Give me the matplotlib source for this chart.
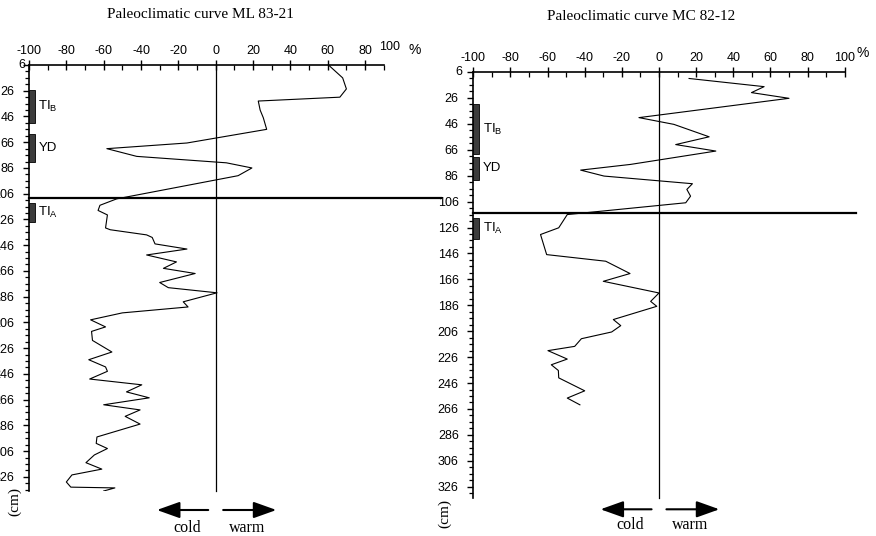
import matplotlib
matplotlib.use("Agg")
import matplotlib.pyplot as plt
import numpy as np

# ---------------- data ----------------
title_ml = "Paleoclimatic curve ML 83-21"
title_mc = "Paleoclimatic curve MC 82-12"

depth_ml = [6, 16, 24.6, 31, 34, 41, 47, 56, 66.6, 71, 77, 82, 86, 92, 110, 115, 119, 122.5,
            132.6, 134, 138, 140, 145, 149, 153.6, 159, 164, 168, 175, 179, 183, 190, 194,
            198.6, 204, 209.5, 213, 220, 229, 235, 240.6, 244, 250, 254.5, 260, 264.6, 270,
            274, 279, 285, 295, 300, 304, 309, 315, 320, 324.5, 330, 334, 334.6, 337]
value_ml = [60.4, 68, 70, 66.5, 22.8, 23.8, 25.5, 27.3, -15.4, -58.3, -42.3, 5.7, 19.4, 12, -53,
            -62, -63, -58, -59, -56.5, -37, -34, -32.5, -15.4, -37, -21, -28, -11, -30, -25.4,
            0.7, -17.4, -14.8, -50, -67, -59, -66.5, -66, -55.6, -68, -59, -58, -67.5, -39.6,
            -47.8, -35.6, -60, -40.5, -48.5, -40.5, -63.6, -64, -58, -65, -69.5, -61, -77, -80,
            -77.6, -54, -60]

depth_mc = [11, 17.3, 21.9, 26.3, 41.2, 46.4, 56, 62, 67, 77.3, 81.7, 86.3, 92.2, 96.6, 101.8,
            106.9, 116, 126.2, 131.4, 146.9, 152, 161.5, 167.5, 176.5, 183, 186.8, 197, 201.7,
            206.6, 211.8, 217.7, 221, 227.5, 231.9, 236.3, 242, 252, 257.6, 262.8]
value_mc = [16.2, 56.6, 49.8, 70, -10.8, 8, 27, 9, 30.6, -15.3, -42.2, -29.6, 18, 15, 17, 14.4,
            -49.4, -54, -63.8, -60.5, -28.7, -15.6, -30, 0, -4.5, -1.2, -24.6, -20.6, -25.5,
            -41.8, -45.4, -59.8, -49.4, -58, -54.2, -54, -40, -49.4, -42.6]

boundary_ml = 109
boundary_mc = 114.5

# climatic zones: (label, top depth, bottom depth)
zones_ml = [(r"TI$_\mathregular{B}$", 25.4, 51), ("YD", 60, 81), (r"TI$_\mathregular{A}$", 113, 128)]
zones_mc = [(r"TI$_\mathregular{B}$", 31, 69.6), ("YD", 71.3, 89.4), (r"TI$_\mathregular{A}$", 119, 134.5)]

depth_ticks = list(range(6, 327, 20))
pct_ticks_ml = list(range(-100, 81, 20))
pct_ticks_mc = list(range(-100, 101, 20))

# ---------------- drawing ----------------
W, H = 876, 536
fig = plt.figure(figsize=(W / 100, H / 100), dpi=100)

SANS = ['Liberation Sans', 'DejaVu Sans']
SERIF = ['Liberation Serif', 'DejaVu Serif']
TS = 9
plt.rcParams['mathtext.fontset'] = 'custom'


def fx(x):
    return x / W


def fy(y):
    return 1 - y / H


def setup(ax, xmax_axis, pct_ticks, ylim):
    ax.set_xlim(-100, 100)
    ax.set_ylim(*ylim)
    for s in ['right', 'bottom']:
        ax.spines[s].set_visible(False)
    ax.spines['top'].set_bounds(-100, xmax_axis)
    ax.spines['top'].set_linewidth(1.2)
    ax.spines['left'].set_linewidth(1.2)
    ax.xaxis.tick_top()
    ax.set_xticks(pct_ticks)
    ax.set_xticklabels([str(t) for t in pct_ticks], family=SANS, fontsize=TS)
    ax.set_xticks([t for t in range(-90, 91, 20)], minor=True)
    ax.tick_params(axis='x', which='major', direction='inout', length=7, width=1, pad=2)
    ax.tick_params(axis='x', which='minor', direction='in', length=3.5, width=0.9)
    ax.set_yticks(depth_ticks)
    ax.set_yticklabels([''] + [str(t) for t in depth_ticks[1:]], family=SANS, fontsize=TS)
    ax.set_yticks([d for d in range(6, int(ylim[0]) + 1, 5) if (d - 6) % 20 != 0], minor=True)
    ax.tick_params(axis='y', which='major', direction='out', length=4, width=1, pad=6.5)
    ax.tick_params(axis='y', which='minor', direction='out', length=3, width=0.9)
    ax.patch.set_alpha(0)


def panel(ax, depth, value, boundary, zones, ymax, bline_x, arrow_y, text_y):
    ax.plot(value, depth, color='black', lw=0.8, zorder=3)
    ax.plot([0, 0], [6, ymax], color='black', lw=0.9, zorder=2, clip_on=False)
    ax.plot([-100, bline_x], [boundary, boundary], color='black', lw=1.6, zorder=4, clip_on=False)
    for lab, d0, d1 in zones:
        ax.bar(-100, d1 - d0, bottom=d0, width=3.2, align='edge', color='#3c3c3c',
               edgecolor='black', lw=0.6, zorder=3, clip_on=False)
        ax.text(-95, (d0 + d1) / 2, lab, family=SANS, fontsize=9.5, va='center', ha='left')
    tr = ax.get_xaxis_transform()
    ap = dict(arrowstyle='-|>,head_length=1.4,head_width=0.5', color='black', lw=1.5,
              shrinkA=0, shrinkB=0, mutation_scale=10)
    ax.annotate('', xy=(-31.5, arrow_y), xytext=(-4, arrow_y), xycoords=tr, textcoords=tr,
                arrowprops=ap, annotation_clip=False)
    ax.annotate('', xy=(32.5, arrow_y), xytext=(4, arrow_y), xycoords=tr, textcoords=tr,
                arrowprops=ap, annotation_clip=False)
    ax.text(-15.3, text_y, 'cold', transform=tr, family=SERIF, fontsize=11.5, ha='center',
            va='center')
    ax.text(16.6, text_y, 'warm', transform=tr, family=SERIF, fontsize=11.5, ha='center',
            va='center')


axL = fig.add_axes([fx(29), fy(491), 373.4 / W, 426 / H])
setup(axL, 90, pct_ticks_ml, (337, 6))
panel(axL, depth_ml, value_ml, boundary_ml, zones_ml, 337, 120.7,
      (491 - 510) / 426, (491 - 528) / 426)

axR = fig.add_axes([fx(473.3), fy(498), 371.4 / W, 426 / H])
setup(axR, 100, pct_ticks_mc, (334.7, 6))
panel(axR, depth_mc, value_mc, boundary_mc, zones_mc, 334.7, 106,
      (498 - 509.3) / 426, (498 - 525) / 426)

# extra labels
fig.text(fx(200), fy(15), title_ml, family=SERIF, fontsize=11, ha='center', va='center')
fig.text(fx(641), fy(16), title_mc, family=SERIF, fontsize=11, ha='center', va='center')
fig.text(fx(390), fy(47), '100', family=SANS, fontsize=TS, ha='center', va='center')
fig.text(fx(415), fy(50), '%', family=SANS, fontsize=TS + 1, ha='center', va='center')
fig.text(fx(863), fy(53), '%', family=SANS, fontsize=TS + 1, ha='center', va='center')
fig.text(fx(25), fy(65), '6', family=SANS, fontsize=TS, ha='right', va='center')
fig.text(fx(462.5), fy(72), '6', family=SANS, fontsize=TS, ha='right', va='center')
fig.text(fx(15), fy(502), '(cm)', family=SERIF, fontsize=11, rotation=90, ha='center', va='center')
fig.text(fx(445), fy(513), '(cm)', family=SERIF, fontsize=11, rotation=90, ha='center', va='center')

fig.savefig('out.png', dpi=100)
